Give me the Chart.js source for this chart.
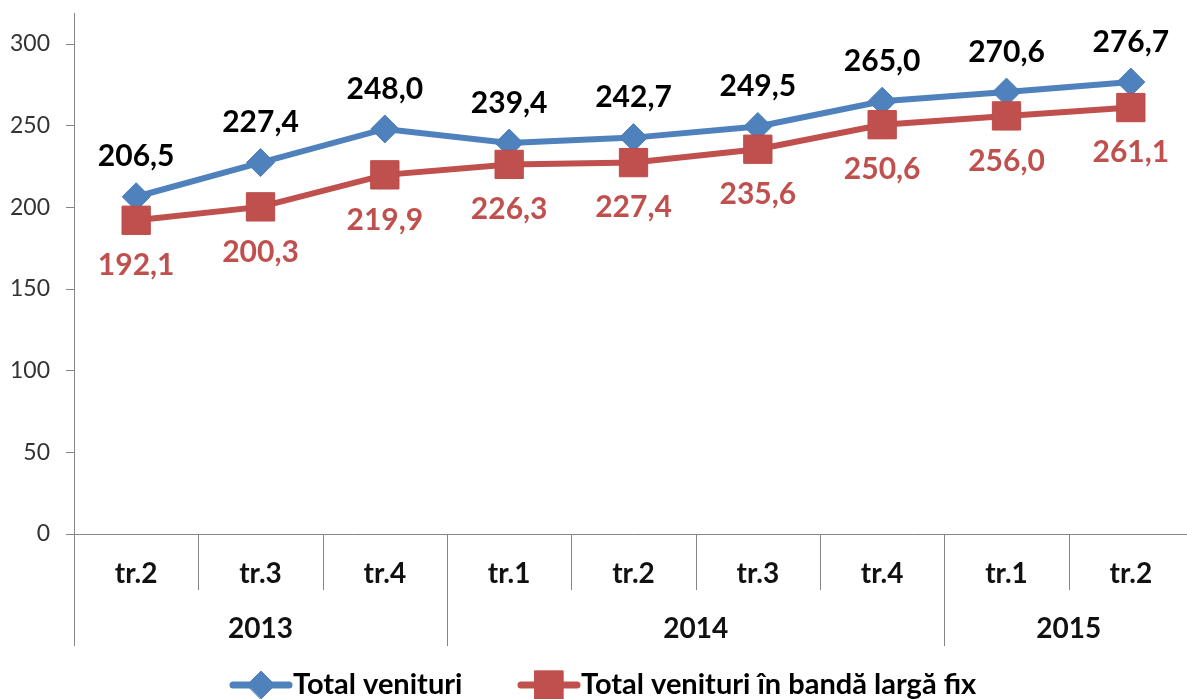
<!DOCTYPE html>
<html>
<head>
<meta charset="utf-8">
<script src="https://cdn.jsdelivr.net/npm/chart.js@4"></script>
<style>
  html, body { margin: 0; padding: 0; background: #fff; overflow: hidden; }
  canvas { display: block; }
</style>
</head>
<body>
<!-- un pic mai lat decat fereastra: in original zona graficului iese putin din imagine -->
<canvas id="grafic" width="1193" height="699"></canvas>
<script>
// Date
const trimestre = ['tr.2', 'tr.3', 'tr.4', 'tr.1', 'tr.2', 'tr.3', 'tr.4', 'tr.1', 'tr.2'];
const ani = ['2013', '2014', '2015'];
const trimestrePeAn = [3, 4, 2];
const totalVenituri = [206.5, 227.4, 248.0, 239.4, 242.7, 249.5, 265.0, 270.6, 276.7];
const venituriBandaLarga = [192.1, 200.3, 219.9, 226.3, 227.4, 235.6, 250.6, 256.0, 261.1];
const valoriAxaY = [0, 50, 100, 150, 200, 250, 300];

const ALBASTRU = '#4F81BD';
const ROSU = '#C0504D';
const GRI = '#868686';
const FONT = 'Lato, "Open Sans", sans-serif';

const fmt = v => v.toFixed(1).replace('.', ',');

// Etichete, separatoare de categorii si legenda, in stil Excel
const decorExcel = {
    id: 'decorExcel',
    afterDraw(chart) {
        const { ctx, chartArea } = chart;
        const x = chart.scales.x;
        const bottom = chartArea.bottom;
        const half = (x.getPixelForValue(1) - x.getPixelForValue(0)) / 2;

        ctx.save();
        // axa X
        ctx.strokeStyle = GRI;
        ctx.lineWidth = 1;
        ctx.beginPath();
        ctx.moveTo(chartArea.left, bottom + 0.5);
        ctx.lineTo(chartArea.right, bottom + 0.5);
        ctx.stroke();

        // limitele anilor
        const limiteAni = [0];
        trimestrePeAn.forEach(n => limiteAni.push(limiteAni[limiteAni.length - 1] + n));

        for (let i = 0; i < trimestre.length; i++) {
            const bx = Math.round(x.getPixelForValue(i) - half) + 0.5;
            const lung = limiteAni.includes(i) ? 112 : 56;
            ctx.beginPath();
            ctx.moveTo(bx, bottom);
            ctx.lineTo(bx, bottom + lung);
            ctx.stroke();
        }

        ctx.fillStyle = '#111';
        ctx.textAlign = 'center';
        ctx.textBaseline = 'middle';
        ctx.font = 'bold 28px ' + FONT;
        trimestre.forEach((t, i) => {
            ctx.fillText(t, x.getPixelForValue(i), bottom + 40);
        });
        ani.forEach((a, k) => {
            const c = (x.getPixelForValue(limiteAni[k]) + x.getPixelForValue(limiteAni[k + 1] - 1)) / 2;
            ctx.fillText(a, c, bottom + 95);
        });

        // etichete de date
        ctx.font = 'bold 30px ' + FONT;
        chart.data.datasets.forEach((ds, di) => {
            const meta = chart.getDatasetMeta(di);
            meta.data.forEach((pt, i) => {
                if (ds.sus) {
                    ctx.fillStyle = '#000';
                    ctx.fillText(fmt(ds.data[i]), pt.x, pt.y - 40);
                } else {
                    ctx.fillStyle = ROSU;
                    ctx.fillText(fmt(ds.data[i]), pt.x, pt.y + 45);
                }
            });
        });

        // legenda
        const ly = 685;
        ctx.font = 'bold 29px ' + FONT;
        ctx.textAlign = 'left';
        const elemente = [
            { x0: 233, culoare: ALBASTRU, stil: 'rectRot', r: 14, text: 'Total venituri' },
            { x0: 521, culoare: ROSU, stil: 'rect', r: 20, text: 'Total venituri în bandă largă fix' }
        ];
        elemente.forEach(e => {
            ctx.strokeStyle = e.culoare;
            ctx.lineWidth = 7;
            ctx.lineCap = 'round';
            ctx.beginPath();
            ctx.moveTo(e.x0, ly);
            ctx.lineTo(e.x0 + 56, ly);
            ctx.stroke();
            ctx.fillStyle = e.culoare;
            ctx.lineWidth = 1;
            Chart.helpers.drawPoint(ctx, { pointStyle: e.stil, radius: e.r, borderWidth: 1 }, e.x0 + 28, ly);
            ctx.fillStyle = '#000';
            ctx.fillText(e.text, e.x0 + 60, ly);
        });
        ctx.restore();
    }
};

const ctx = document.getElementById('grafic').getContext('2d');
new Chart(ctx, {
    type: 'line',
    data: {
        labels: trimestre,
        datasets: [{
            label: 'Total venituri',
            data: totalVenituri,
            sus: true,
            order: 1,
            borderColor: ALBASTRU,
            backgroundColor: ALBASTRU,
            borderWidth: 6,
            pointStyle: 'rectRot',
            pointRadius: 14,
            pointHoverRadius: 14,
            pointBorderColor: '#4A7EBB',
            pointBorderWidth: 1,
            tension: 0
        }, {
            label: 'Total venituri în bandă largă fix',
            data: venituriBandaLarga,
            sus: false,
            order: 0,
            borderColor: ROSU,
            backgroundColor: ROSU,
            borderWidth: 6,
            pointStyle: 'rect',
            pointRadius: 20,
            pointHoverRadius: 20,
            pointBorderColor: '#BE4B48',
            pointBorderWidth: 1,
            tension: 0
        }]
    },
    options: {
        responsive: false,
        animation: false,
        devicePixelRatio: 1,
        layout: { autoPadding: false, padding: { top: 13, left: 0, right: 0, bottom: 0 } },
        plugins: {
            legend: { display: false },
            tooltip: { enabled: false }
        },
        scales: {
            x: {
                type: 'category',
                offset: true,
                grid: { display: false },
                border: { display: false },
                ticks: { display: false },
                afterFit: s => { s.height = 165; s.paddingLeft = 0; s.paddingRight = 0; }
            },
            y: {
                min: 0,
                max: 319,
                afterBuildTicks: s => { s.ticks = valoriAxaY.map(v => ({ value: v })); },
                grid: { drawOnChartArea: false, tickLength: 8, color: GRI },
                border: { color: GRI, width: 1 },
                ticks: {
                    padding: 16,
                    color: '#333',
                    font: { family: FONT, size: 23 }
                },
                afterFit: s => { s.width = 74; s.paddingTop = 0; s.paddingBottom = 0; }
            }
        }
    },
    plugins: [decorExcel]
});
</script>
</body>
</html>
